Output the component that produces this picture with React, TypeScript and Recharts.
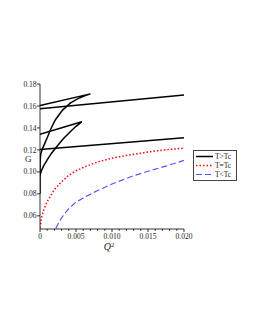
import React from "react";
import { Legend, Line, LineChart, XAxis, YAxis } from "recharts";

// [Q^2, G] pairs
const upperSwallowtail: [number, number][] = [
  [0, 0.1605], [0.007, 0.171], [0.0063, 0.1695], [0.0052, 0.1665], [0.0042, 0.1625],
  [0.0031, 0.156], [0.0021, 0.147], [0.0015, 0.139], [0.001, 0.131], [0.0006, 0.125],
  [0.0003, 0.1205], [0.0001, 0.116], [0.00002, 0.11], [0, 0.1], [0, 0.08],
];
const upperLong: [number, number][] = [[0, 0.1574], [0.02, 0.170]];
const lowerSwallowtail: [number, number][] = [
  [0, 0.1343], [0.0058, 0.1456], [0.005, 0.1415], [0.0042, 0.1365], [0.0032, 0.13],
  [0.0024, 0.1235], [0.0016, 0.117], [0.001, 0.111], [0.0005, 0.1055], [0.0002, 0.101],
  [0.00005, 0.098], [0, 0.097],
];
const lowerLong: [number, number][] = [[0, 0.1203], [0.02, 0.131]];
const critical: [number, number][] = [
  [0, 0.049], [0.0002, 0.058], [0.0005, 0.065], [0.001, 0.073], [0.002, 0.084],
  [0.003, 0.091], [0.004, 0.097], [0.005, 0.101], [0.006, 0.104], [0.008, 0.109],
  [0.01, 0.1125], [0.012, 0.115], [0.014, 0.117], [0.016, 0.119], [0.018, 0.1205],
  [0.02, 0.1215],
];
const belowCritical: [number, number][] = [
  [0.0022, 0.0485], [0.0027, 0.055], [0.0033, 0.061], [0.004, 0.0665], [0.005, 0.0725],
  [0.0065, 0.078], [0.008, 0.083], [0.01, 0.089], [0.013, 0.0965], [0.0155, 0.1015],
  [0.0176, 0.1055], [0.02, 0.1105],
];

const xTicks = [
  0, 0.001, 0.002, 0.003, 0.004, 0.005, 0.006, 0.007, 0.008, 0.009, 0.01,
  0.011, 0.012, 0.013, 0.014, 0.015, 0.016, 0.017, 0.018, 0.019, 0.02,
];
const xMajorLabels: Record<string, string> = {
  "0": "0", "0.005": "0.005", "0.01": "0.010", "0.015": "0.015", "0.02": "0.020",
};
const yTicks = [0.06, 0.08, 0.1, 0.12, 0.14, 0.16, 0.18];

const legendItems = [
  { name: "T>Tc", color: "#000000", dash: undefined, width: 1.5 },
  { name: "T=Tc", color: "#ff0000", dash: "1.5 2", width: 1.5 },
  { name: "T<Tc", color: "#5555ff", dash: "6 3", width: 1.2 },
];

const toRows = (pts: [number, number][]) => pts.map(([x, g]) => ({ x, g }));

const font = "'Liberation Serif', 'Times New Roman', serif";

const XTick = (props: any) => {
  const { x, y, payload } = props;
  const label = xMajorLabels[String(payload.value)];
  const major = label !== undefined;
  return (
    <g>
      <line x1={x} x2={x} y1={y} y2={y + (major ? 3 : 1.8)} stroke="#000" strokeWidth={0.8} />
      {major && (
        <text x={x} y={y + 9.5} textAnchor="middle" fontSize={7.5} fontFamily={font} fill="#222">
          {label}
        </text>
      )}
    </g>
  );
};

const YTick = (props: any) => {
  const { x, y, payload } = props;
  return (
    <g>
      <line x1={x - 3} x2={x} y1={y} y2={y} stroke="#000" strokeWidth={0.8} />
      <text x={x - 3.5} y={y + 2.6} textAnchor="end" fontSize={7.5} fontFamily={font} fill="#222">
        {payload.value.toFixed(2)}
      </text>
    </g>
  );
};

const XLabel = (props: any) => {
  const { viewBox } = props;
  const cx = viewBox.x + viewBox.width / 2 - 3;
  return (
    <text x={cx} y={viewBox.y + 21} textAnchor="middle" fontSize={10} fontFamily={font} fill="#222">
      <tspan fontStyle="italic">Q</tspan>
      <tspan fontSize={6.5} dy={-3.5}>2</tspan>
    </text>
  );
};

const YLabel = (props: any) => {
  const { viewBox } = props;
  return (
    <text x={viewBox.x + 15} y={viewBox.y + viewBox.height / 2 + 5.5} fontSize={9} fontFamily={font} fill="#222">
      G
    </text>
  );
};

const LegendBox = () => (
  <div
    style={{
      border: "1px solid #444",
      background: "#fff",
      padding: "1px 2px",
      width: 38,
      fontFamily: font,
      fontSize: 7.5,
      color: "#222",
      lineHeight: "9px",
    }}
  >
    {legendItems.map((it) => (
      <div key={it.name} style={{ display: "flex", alignItems: "center" }}>
        <svg width={17} height={9} style={{ marginRight: 2 }}>
          <line x1={0} x2={17} y1={4.5} y2={4.5} stroke={it.color} strokeWidth={it.width} strokeDasharray={it.dash} />
        </svg>
        <span>{it.name}</span>
      </div>
    ))}
  </div>
);

export default function App() {
  return (
    <div style={{ position: "absolute", left: 0, top: 0, background: "#fff" }}>
      <LineChart width={255} height={330} margin={{ top: 84, right: 71, bottom: 81, left: 10 }}>
        <XAxis
          type="number"
          dataKey="x"
          domain={[0, 0.02]}
          ticks={xTicks}
          interval={0}
          allowDataOverflow
          tickLine={false}
          tickSize={0}
          tickMargin={0}
          tick={<XTick />}
          height={20}
          axisLine={{ stroke: "#000", strokeWidth: 0.8 }}
          label={<XLabel />}
        />
        <YAxis
          type="number"
          domain={[0.048, 0.18]}
          ticks={yTicks}
          interval={0}
          allowDataOverflow
          tickLine={false}
          tickSize={0}
          tickMargin={0}
          tick={<YTick />}
          width={30}
          axisLine={{ stroke: "#000", strokeWidth: 0.8 }}
          label={<YLabel />}
        />
        <Legend
          layout="vertical"
          align="center"
          verticalAlign="middle"
          content={<LegendBox />}
          wrapperStyle={{ left: 193, top: 150, width: 44 }}
        />
        <Line data={toRows(upperSwallowtail)} dataKey="g" type="linear" stroke="#000" strokeWidth={1.5} dot={false} isAnimationActive={false} legendType="none" />
        <Line data={toRows(upperLong)} dataKey="g" type="linear" stroke="#000" strokeWidth={1.5} dot={false} isAnimationActive={false} legendType="none" />
        <Line data={toRows(lowerSwallowtail)} dataKey="g" type="linear" stroke="#000" strokeWidth={1.5} dot={false} isAnimationActive={false} legendType="none" />
        <Line data={toRows(lowerLong)} dataKey="g" type="linear" stroke="#000" strokeWidth={1.5} dot={false} isAnimationActive={false} legendType="none" />
        <Line data={toRows(critical)} dataKey="g" type="linear" stroke="#ff0000" strokeWidth={1.5} strokeDasharray="1.5 2" dot={false} isAnimationActive={false} legendType="none" />
        <Line data={toRows(belowCritical)} dataKey="g" type="linear" stroke="#5555ff" strokeWidth={1.2} strokeDasharray="6 3" dot={false} isAnimationActive={false} legendType="none" />
      </LineChart>
    </div>
  );
}
